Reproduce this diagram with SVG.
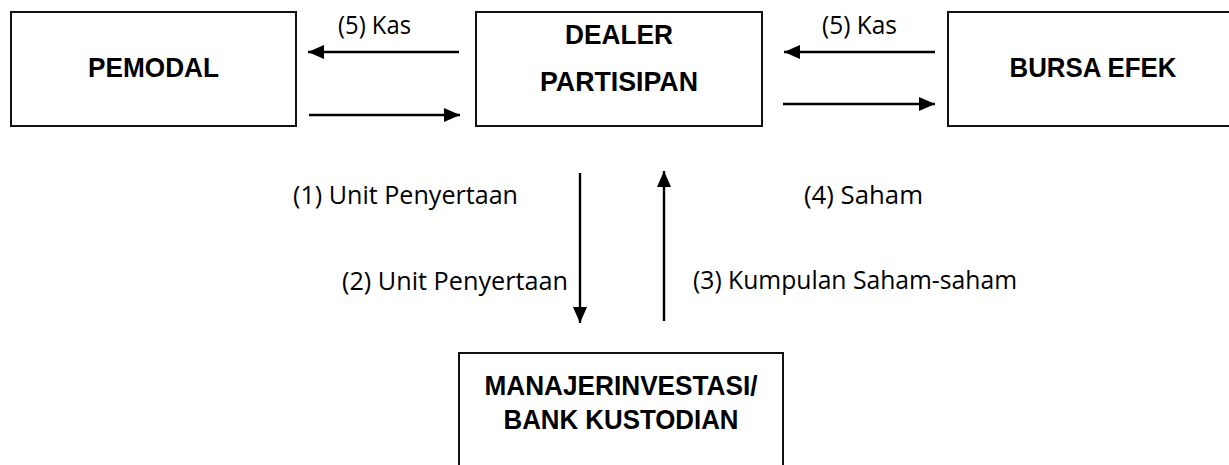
<svg xmlns="http://www.w3.org/2000/svg" width="1229" height="465" viewBox="0 0 1229 465">
<style>
.box{fill:#fff;stroke:#111;stroke-width:2}
.title{font-family:"Liberation Sans",Arial,sans-serif;font-weight:bold;font-size:28.5px;fill:#000;text-anchor:middle}
.lbl{font-family:"Open Sans","Noto Sans",sans-serif;font-size:25px;fill:#000}
.conn{stroke:#000;stroke-width:2.4;fill:none;marker-end:url(#ah)}
</style>
<defs>
<marker id="ah" markerUnits="userSpaceOnUse" markerWidth="17" markerHeight="14" refX="16" refY="7" orient="auto">
<path d="M0,0 L16,7 L0,14 z" fill="#000"/>
</marker>
</defs>
<rect width="1229" height="465" fill="#fff"/>
<g id="pemodal">
<rect class="box" x="11" y="12" width="285" height="114"/>
<text class="title" x="153.5" y="77" textLength="131" lengthAdjust="spacingAndGlyphs">PEMODAL</text>
</g>
<g id="dealer">
<rect class="box" x="476" y="12" width="286" height="114"/>
<text class="title" x="619" y="44" textLength="108" lengthAdjust="spacingAndGlyphs">DEALER</text>
<text class="title" x="619" y="91" textLength="158" lengthAdjust="spacingAndGlyphs">PARTISIPAN</text>
</g>
<g id="bursa">
<rect class="box" x="948" y="12" width="300" height="114"/>
<text class="title" x="1093" y="77" textLength="167" lengthAdjust="spacingAndGlyphs">BURSA EFEK</text>
</g>
<g id="manajer">
<rect class="box" x="459" y="353" width="324" height="140"/>
<text class="title" x="621" y="395" textLength="273" lengthAdjust="spacingAndGlyphs">MANAJERINVESTASI/</text>
<text class="title" x="621" y="429" textLength="235" lengthAdjust="spacingAndGlyphs">BANK KUSTODIAN</text>
</g>
<g id="connectors">
<line class="conn" x1="459" y1="52" x2="308" y2="52"/>
<line class="conn" x1="309" y1="115" x2="460" y2="115"/>
<line class="conn" x1="935" y1="52" x2="784" y2="52"/>
<line class="conn" x1="783" y1="104" x2="935" y2="104"/>
<line class="conn" x1="580" y1="173" x2="580" y2="323"/>
<line class="conn" x1="664" y1="321" x2="664" y2="171"/>
</g>
<g id="labels">
<text class="lbl" x="338" y="34" textLength="73" lengthAdjust="spacingAndGlyphs">(5) Kas</text>
<text class="lbl" x="822" y="34" textLength="75" lengthAdjust="spacingAndGlyphs">(5) Kas</text>
<text class="lbl" x="293" y="204" textLength="225" lengthAdjust="spacingAndGlyphs">(1) Unit Penyertaan</text>
<text class="lbl" x="342" y="290" textLength="226" lengthAdjust="spacingAndGlyphs">(2) Unit Penyertaan</text>
<text class="lbl" x="804" y="204" textLength="119" lengthAdjust="spacingAndGlyphs">(4) Saham</text>
<text class="lbl" x="693" y="289" textLength="324" lengthAdjust="spacingAndGlyphs">(3) Kumpulan Saham-saham</text>
</g>
</svg>
